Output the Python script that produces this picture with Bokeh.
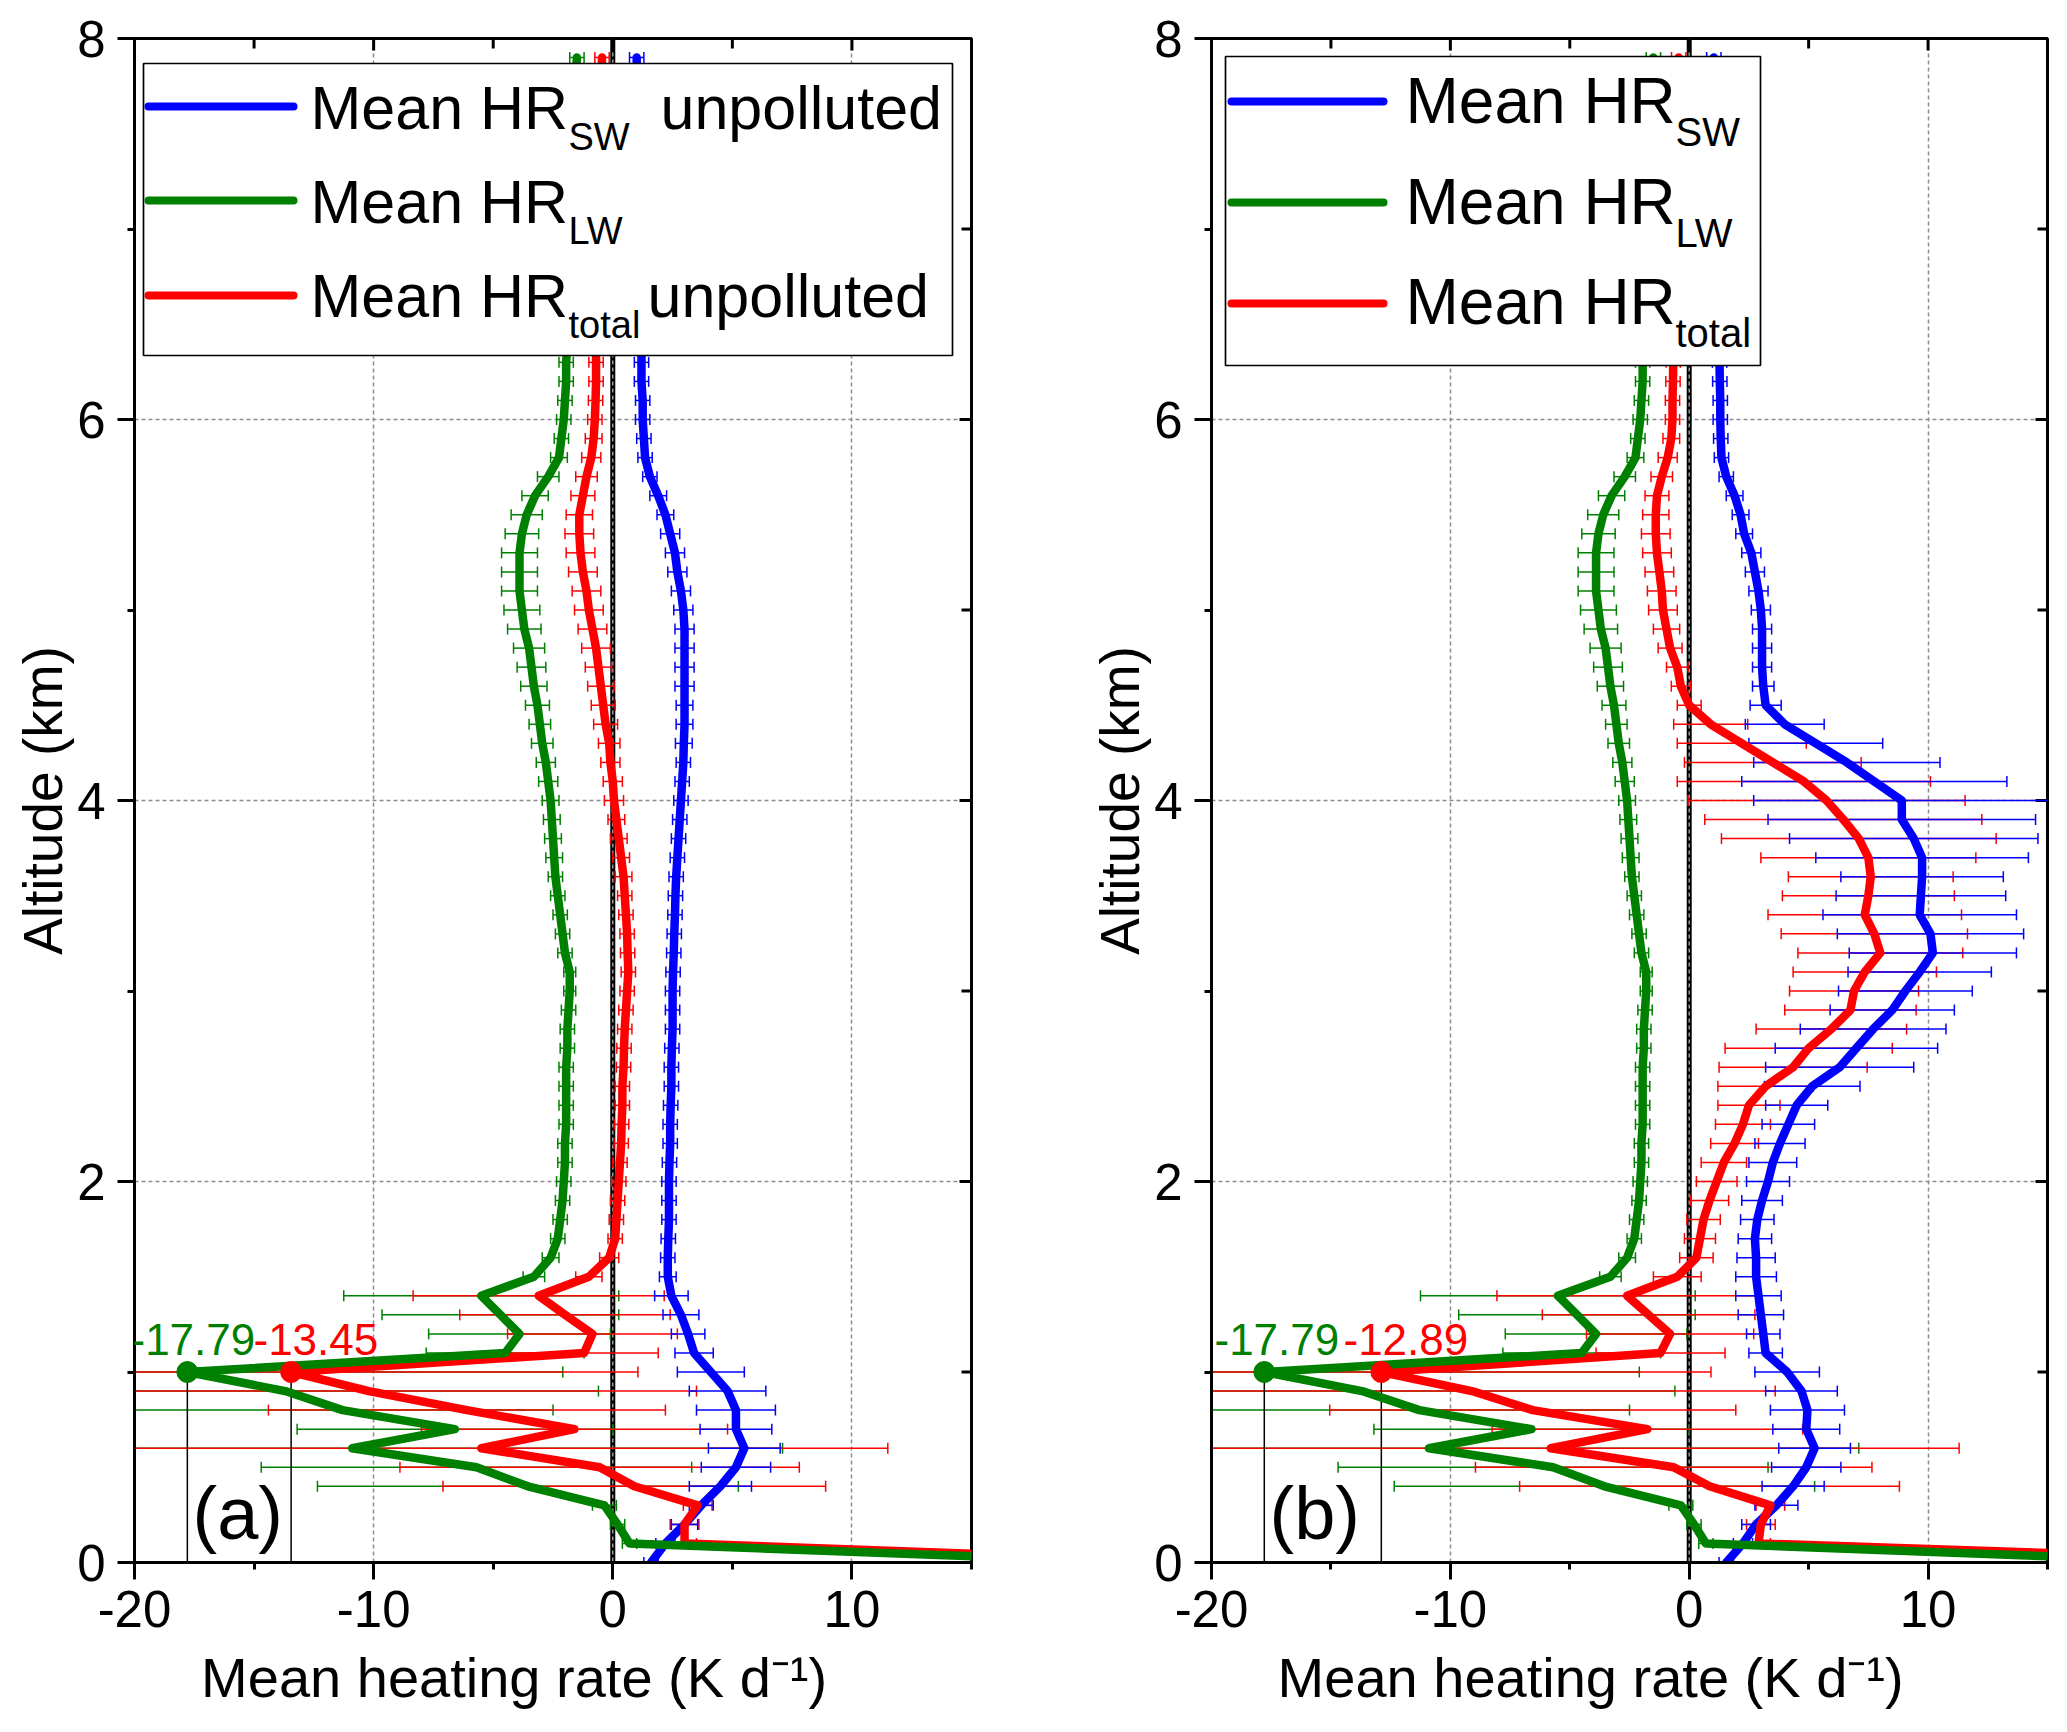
from math import pi

from bokeh.core.properties import value
from bokeh.embed import file_html
from bokeh.layouts import row
from bokeh.models import (ColumnDataSource, Label, PrintfTickFormatter,
                          SingleIntervalTicker, Span)
from bokeh.plotting import figure
from bokeh.resources import INLINE

# altitude levels (km)
alt = [0.0, 0.1, 0.2, 0.3, 0.4, 0.5, 0.6, 0.7, 0.8, 0.9,
       1.0, 1.1, 1.2, 1.3, 1.4, 1.5, 1.6, 1.7, 1.8, 1.9,
       2.0, 2.1, 2.2, 2.3, 2.4, 2.5, 2.6, 2.7, 2.8, 2.9,
       3.0, 3.1, 3.2, 3.3, 3.4, 3.5, 3.6, 3.7, 3.8, 3.9,
       4.0, 4.1, 4.2, 4.3, 4.4, 4.5, 4.6, 4.7, 4.8, 4.9,
       5.0, 5.1, 5.2, 5.3, 5.4, 5.5, 5.6, 5.7, 5.8, 5.9,
       6.0, 6.1, 6.2, 6.3, 6.4, 6.5, 6.6, 6.7, 6.8, 6.9,
       7.0, 7.1, 7.2, 7.3, 7.4, 7.5, 7.6, 7.7, 7.8, 7.9]

# longwave heating rate (same in both panels)
lw = [22.0, 0.7, 0.2, -0.35, -3.55, -5.7, -10.9, -6.6, -11.3, -13.7,
      -17.79, -4.5, -3.9, -4.7, -5.5, -3.3, -2.6, -2.3, -2.2, -2.1,
      -2.05, -2.0, -2.0, -1.95, -1.95, -1.95, -1.95, -1.9, -1.9, -1.85,
      -1.8, -1.8, -2.0, -2.1, -2.2, -2.3, -2.4, -2.45, -2.5, -2.55,
      -2.6, -2.7, -2.8, -2.95, -3.05, -3.15, -3.3, -3.4, -3.5, -3.7,
      -3.8, -3.9, -3.9, -3.9, -3.8, -3.6, -3.25, -2.7, -2.25, -2.15,
      -2.05, -2.0, -1.95, -1.95, -1.9, -1.88, -1.85, -1.82, -1.8, -1.78,
      -1.75, -1.72, -1.7, -1.68, -1.65, -1.62, -1.6, -1.57, -1.55, -1.5]
lw_err = [0.3, 0.3, 0.3, 0.5, 8.8, 9.0, 18.0, 6.6, 8.8, 13.1,
          15.7, 3.3, 3.8, 4.95, 5.75, 0.45, 0.35, 0.3, 0.3, 0.3,
          0.3, 0.3, 0.3, 0.3, 0.3, 0.3, 0.3, 0.3, 0.3, 0.3,
          0.25, 0.25, 0.3, 0.3, 0.3, 0.3, 0.3, 0.35, 0.35, 0.35,
          0.35, 0.4, 0.4, 0.45, 0.45, 0.5, 0.55, 0.6, 0.65, 0.7,
          0.75, 0.75, 0.75, 0.75, 0.7, 0.65, 0.55, 0.45, 0.35, 0.3,
          0.3, 0.3, 0.3, 0.3, 0.3, 0.3, 0.3, 0.3, 0.3, 0.3,
          0.3, 0.3, 0.3, 0.3, 0.3, 0.3, 0.3, 0.3, 0.3, 0.3]

# panel (a): unpolluted
sw_a = [1.6, 2.2, 3.0, 3.7, 4.5, 5.15, 5.5, 5.15, 5.15, 4.8,
        4.1, 3.4, 3.15, 2.85, 2.45, 2.3, 2.3, 2.32, 2.35, 2.35,
        2.35, 2.37, 2.4, 2.4, 2.42, 2.45, 2.45, 2.47, 2.5, 2.5,
        2.5, 2.52, 2.55, 2.57, 2.6, 2.62, 2.65, 2.7, 2.75, 2.8,
        2.85, 2.9, 2.95, 2.97, 3.0, 3.0, 3.0, 3.0, 3.0, 3.0,
        2.95, 2.85, 2.7, 2.6, 2.4, 2.2, 1.9, 1.55, 1.35, 1.3,
        1.25, 1.25, 1.2, 1.2, 1.2, 1.2, 1.18, 1.15, 1.15, 1.12,
        1.1, 1.1, 1.08, 1.05, 1.05, 1.05, 1.02, 1.0, 1.0, 1.0]
sw_a_err = [0.3, 0.4, 0.55, 0.5, 1.3, 1.45, 1.5, 1.5, 1.65, 1.6,
            1.4, 0.8, 0.7, 0.75, 0.7, 0.35, 0.3, 0.3, 0.3, 0.3,
            0.3, 0.3, 0.3, 0.3, 0.3, 0.3, 0.3, 0.3, 0.3, 0.3,
            0.3, 0.3, 0.3, 0.3, 0.3, 0.3, 0.3, 0.3, 0.3, 0.3,
            0.3, 0.3, 0.3, 0.35, 0.35, 0.35, 0.4, 0.4, 0.4, 0.4,
            0.4, 0.4, 0.4, 0.4, 0.4, 0.35, 0.35, 0.3, 0.3, 0.3,
            0.3, 0.3, 0.3, 0.3, 0.3, 0.3, 0.3, 0.3, 0.3, 0.3,
            0.3, 0.3, 0.3, 0.3, 0.3, 0.3, 0.3, 0.3, 0.3, 0.3]
tot_a = [25.0, 3.0, 3.0, 3.55, 0.9, -0.55, -5.5, -1.6, -6.1, -10.2,
         -13.45, -1.2, -0.85, -2.0, -3.1, -1.0, -0.15, 0.1, 0.15, 0.2,
         0.25, 0.3, 0.35, 0.37, 0.4, 0.4, 0.45, 0.47, 0.5, 0.55,
         0.6, 0.65, 0.62, 0.6, 0.55, 0.5, 0.45, 0.35, 0.25, 0.15,
         0.05, 0.0, -0.1, -0.15, -0.3, -0.4, -0.5, -0.6, -0.7, -0.85,
         -1.0, -1.1, -1.25, -1.35, -1.4, -1.4, -1.25, -1.1, -0.9, -0.8,
         -0.75, -0.72, -0.7, -0.7, -0.7, -0.7, -0.68, -0.66, -0.65, -0.63,
         -0.62, -0.6, -0.58, -0.56, -0.55, -0.53, -0.5, -0.49, -0.47, -0.45]
tot_a_err = [0.3, 0.5, 0.6, 0.6, 8.0, 8.35, 17.0, 6.4, 8.3, 13.7,
             14.5, 3.1, 3.55, 4.4, 5.25, 0.55, 0.4, 0.3, 0.3, 0.3,
             0.3, 0.3, 0.3, 0.3, 0.3, 0.3, 0.3, 0.3, 0.3, 0.3,
             0.3, 0.3, 0.3, 0.3, 0.3, 0.3, 0.35, 0.35, 0.35, 0.35,
             0.4, 0.4, 0.4, 0.45, 0.5, 0.5, 0.55, 0.55, 0.6, 0.6,
             0.6, 0.6, 0.6, 0.6, 0.6, 0.55, 0.5, 0.45, 0.4, 0.35,
             0.3, 0.3, 0.3, 0.3, 0.3, 0.3, 0.3, 0.3, 0.3, 0.3,
             0.3, 0.3, 0.3, 0.3, 0.3, 0.3, 0.3, 0.3, 0.3, 0.3]

# panel (b)
sw_b = [1.55, 2.25, 2.8, 3.65, 4.35, 4.9, 5.25, 4.9, 4.95, 4.7,
        4.1, 3.2, 3.1, 3.0, 2.9, 2.8, 2.8, 2.75, 2.85, 3.05,
        3.3, 3.5, 3.8, 4.15, 4.5, 5.15, 6.3, 7.0, 7.7, 8.5,
        9.05, 9.65, 10.2, 10.1, 9.65, 9.7, 9.75, 9.75, 9.4, 8.9,
        8.9, 7.75, 6.6, 5.3, 4.0, 3.2, 3.1, 3.05, 3.05, 3.05,
        3.0, 2.9, 2.75, 2.6, 2.3, 2.15, 1.9, 1.55, 1.35, 1.32,
        1.3, 1.3, 1.28, 1.27, 1.25, 1.25, 1.22, 1.2, 1.2, 1.18,
        1.15, 1.15, 1.12, 1.1, 1.1, 1.08, 1.05, 1.05, 1.03, 1.03]
sw_b_err = [0.3, 0.4, 0.6, 0.9, 1.3, 1.45, 1.5, 1.4, 1.55, 1.5,
            1.35, 0.7, 0.7, 0.95, 0.95, 0.85, 0.8, 0.7, 0.7, 0.85,
            0.9, 1.0, 1.05, 1.1, 1.3, 2.0, 3.1, 3.4, 3.05, 2.6,
            2.8, 3.0, 3.5, 3.9, 4.05, 3.55, 3.4, 4.45, 5.2, 5.6,
            6.2, 5.55, 3.9, 2.8, 1.65, 0.65, 0.45, 0.4, 0.4, 0.4,
            0.4, 0.4, 0.4, 0.4, 0.35, 0.35, 0.35, 0.3, 0.3, 0.3,
            0.3, 0.3, 0.3, 0.3, 0.3, 0.3, 0.3, 0.3, 0.3, 0.3,
            0.3, 0.3, 0.3, 0.3, 0.3, 0.3, 0.3, 0.3, 0.3, 0.3]
tot_b = [27.0, 2.9, 3.0, 3.4, 0.85, -0.65, -5.8, -1.75, -6.55, -9.1,
         -12.89, -1.2, -0.8, -1.7, -2.6, -0.5, 0.3, 0.45, 0.6, 0.85,
         1.15, 1.45, 1.9, 2.25, 2.5, 3.2, 4.35, 5.0, 5.95, 6.75,
         6.9, 7.35, 8.0, 7.75, 7.35, 7.5, 7.6, 7.5, 7.1, 6.45,
         5.75, 4.8, 3.5, 2.2, 0.9, 0.0, -0.35, -0.5, -0.8, -0.95,
         -1.1, -1.15, -1.25, -1.35, -1.4, -1.4, -1.35, -1.15, -0.9, -0.75,
         -0.7, -0.7, -0.68, -0.67, -0.65, -0.65, -0.63, -0.62, -0.6, -0.6,
         -0.58, -0.56, -0.55, -0.53, -0.52, -0.5, -0.48, -0.47, -0.45, -0.44]
tot_b_err = [0.3, 0.5, 0.6, 0.6, 7.95, 8.3, 17.1, 6.5, 8.5, 12.7,
             13.8, 2.7, 3.5, 4.45, 5.45, 1.0, 0.7, 0.65, 0.7, 0.8,
             0.85, 0.95, 1.0, 1.15, 1.3, 2.0, 3.1, 3.5, 3.15, 2.75,
             2.7, 3.0, 3.45, 3.9, 4.05, 3.6, 3.45, 4.5, 5.75, 5.8,
             5.8, 5.3, 3.7, 2.7, 1.55, 0.5, 0.4, 0.45, 0.5, 0.55,
             0.6, 0.6, 0.6, 0.6, 0.6, 0.55, 0.5, 0.45, 0.4, 0.35,
             0.3, 0.3, 0.3, 0.3, 0.3, 0.3, 0.3, 0.3, 0.3, 0.3,
             0.3, 0.3, 0.3, 0.3, 0.3, 0.3, 0.3, 0.3, 0.3, 0.3]

BLUE, GREEN, RED = "#0000FF", "#008000", "#FF0000"
FONT = "Liberation Sans"
FH = 1524      # frame height in px
TOP, BOTTOM = 38, 168
LIFT = 0.35    # baseline correction of the svg text, in em


def err_bars(p, x, err, color):
    src = ColumnDataSource(dict(y=alt,
                                lo=[a - e for a, e in zip(x, err)],
                                hi=[a + e for a, e in zip(x, err)]))
    p.segment(x0="lo", y0="y", x1="hi", y1="y", source=src, line_color=color, line_width=1.5)
    for col in ("lo", "hi"):
        p.scatter(x=col, y="y", source=src, marker="dash", angle=pi / 2, size=11,
                  line_color=color, line_width=1.5)


def make_panel(sw, sw_err, tot, tot_err, tag, fw, left, right, leg, red_dx, green_dx):
    fx = lambda px: -20 + px * 35.0 / fw
    fy = lambda py: 8 - py * 8.0 / FH
    km = lambda px: px * 8.0 / FH

    p = figure(width=left + fw + right, height=TOP + FH + BOTTOM,
               x_range=(-20, 15), y_range=(0, 8),
               output_backend="svg", toolbar_location=None,
               min_border_left=left, min_border_right=right,
               min_border_top=TOP, min_border_bottom=BOTTOM)
    p.outline_line_color = "black"
    p.outline_line_width = 3

    xt = SingleIntervalTicker(interval=10, num_minor_ticks=2)
    yt = SingleIntervalTicker(interval=2, num_minor_ticks=2)
    for ax, tk in ((p.below[0], xt), (p.left[0], yt)):
        ax.ticker = tk
        ax.formatter = PrintfTickFormatter(format="%d")
        ax.axis_line_width = 3
        ax.major_tick_line_width = 3
        ax.minor_tick_line_width = 3
        ax.major_tick_in, ax.major_tick_out = 0, 17
        ax.minor_tick_in, ax.minor_tick_out = 0, 7
        ax.major_label_text_font = FONT
        ax.major_label_text_font_size = "51px"
        ax.major_label_text_color = "black"
        ax.axis_label_text_font = FONT
        ax.axis_label_text_font_style = "normal"
        ax.axis_label_text_color = "black"
    p.below[0].major_label_standoff = 11
    p.below[0].axis_label = "Mean heating rate (K d\u207b\u00b9)" + "\u00a0" * 5
    p.below[0].axis_label_text_font_size = "56px"
    p.below[0].axis_label_standoff = 16
    p.left[0].major_label_standoff = 12
    p.left[0].axis_label = "Altitude (km)"
    p.left[0].axis_label_text_font_size = "55px"
    p.left[0].axis_label_standoff = 0

    p.xgrid.ticker = xt
    p.ygrid.ticker = yt
    p.grid.grid_line_color = "#8c8c8c"
    p.grid.grid_line_dash = "4 3"
    p.grid.grid_line_width = 1.5

    # inward ticks on the top and right frame edges
    top_x = list(range(-20, 16, 5))
    p.segment(x0=top_x, y0=[8] * len(top_x), x1=top_x,
              y1=[8 - km(12 if v % 10 == 0 else 10) for v in top_x],
              line_color="black", line_width=3)
    right_y = list(range(0, 9))
    p.segment(x0=[15] * len(right_y), y0=right_y,
              x1=[15 - (12 if v % 2 == 0 else 10) * 35.0 / fw for v in right_y], y1=right_y,
              line_color="black", line_width=3)

    p.add_layout(Span(location=0, dimension="height", line_color="black",
                      line_width=5, level="underlay"))
    p.add_layout(Span(location=0, dimension="height", line_color="#9a9a9a",
                      line_width=1.5, line_dash="4 3", level="underlay"))

    err_bars(p, lw, lw_err, GREEN)
    err_bars(p, tot, tot_err, RED)
    err_bars(p, sw, sw_err, BLUE)

    # minimum of LW / total and drop lines to the axis
    i = lw.index(min(lw))
    p.segment(x0=[lw[i], tot[i]], y0=[0, 0], x1=[lw[i], tot[i]], y1=[alt[i], alt[i]],
              line_color="black", line_width=1.5)

    for xs, c in ((sw, BLUE), (tot, RED), (lw, GREEN)):
        p.line(xs, alt, line_color=c, line_width=8.5, line_join="round", line_cap="round")
    p.scatter([lw[i]], [alt[i]], size=21, color=GREEN)
    p.scatter([tot[i]], [alt[i]], size=21, color=RED)

    # legend with subscripts
    b = leg["box"]
    p.quad(left=[fx(b[0])], right=[fx(b[1])], top=[fy(b[2])], bottom=[fy(b[3])],
           fill_color="white", line_color="black", line_width=1.7)
    size, sub_size = leg["size"], leg["sub_size"]
    for (sub, suffix, sfx_dx), c, ly, base in zip(leg["rows"], (BLUE, GREEN, RED),
                                                   leg["line_y"], leg["base"]):
        p.segment(x0=[fx(leg["line_x"][0])], y0=[fy(ly)], x1=[fx(leg["line_x"][1])], y1=[fy(ly)],
                  line_color=c, line_width=8, line_cap="round")
        tx = fx(leg["text_x"])
        p.text(x=[tx], y=[fy(base - LIFT * size)], text=["Mean HR"], text_font=value(FONT),
               text_font_size="%dpx" % size, text_baseline="alphabetic", text_color="black")
        p.text(x=[tx], y=[fy(base + leg["sub_dy"] - LIFT * sub_size)], text=[sub],
               x_offset=leg["sub_dx"], text_font=value(FONT),
               text_font_size="%dpx" % sub_size, text_baseline="alphabetic", text_color="black")
        if suffix:
            p.text(x=[tx], y=[fy(base - LIFT * size)], text=[suffix], x_offset=sfx_dx,
                   text_font=value(FONT), text_font_size="%dpx" % size,
                   text_baseline="alphabetic", text_color="black")

    # value labels of the minima
    vy = 1.09 + km(LIFT * 44)
    p.add_layout(Label(x=-20, y=vy, x_offset=green_dx, text="%.2f" % lw[i],
                       text_color=GREEN, text_font=FONT, text_font_size="44px",
                       text_baseline="alphabetic"))
    p.add_layout(Label(x=-20, y=vy, x_offset=red_dx, text="%.2f" % tot[i],
                       text_color=RED, text_font=FONT, text_font_size="44px",
                       text_baseline="alphabetic"))

    p.add_layout(Label(x=fx(58), y=0.12 + km(LIFT * 74), text=tag, text_font=FONT,
                       text_font_size="74px", text_baseline="alphabetic", text_color="black"))
    return p


leg_a = dict(box=(9, 818, 25, 317), line_x=(14, 159), line_y=(68, 162, 257),
             text_x=176, base=(91, 185, 279), sub_dy=21, sub_dx=258,
             size=61, sub_size=38,
             rows=(("SW", "unpolluted", 350), ("LW", None, 0), ("total", "unpolluted", 337)))
leg_b = dict(box=(14, 549, 18, 327), line_x=(20, 172), line_y=(63, 164, 265),
             text_x=194, base=(85, 186, 286), sub_dy=22, sub_dx=270,
             size=64, sub_size=40,
             rows=(("SW", None, 0), ("LW", None, 0), ("total", None, 0)))

pa = make_panel(sw_a, sw_a_err, tot_a, tot_a_err, "(a)", 837, 134, 109, leg_a, 119, -4)
pb = make_panel(sw_b, sw_b_err, tot_b, tot_b_err, "(b)", 836, 131, 18, leg_b, 132, 3)

layout = row(pa, pb)
open("out.html", "w").write(file_html(layout, INLINE))
